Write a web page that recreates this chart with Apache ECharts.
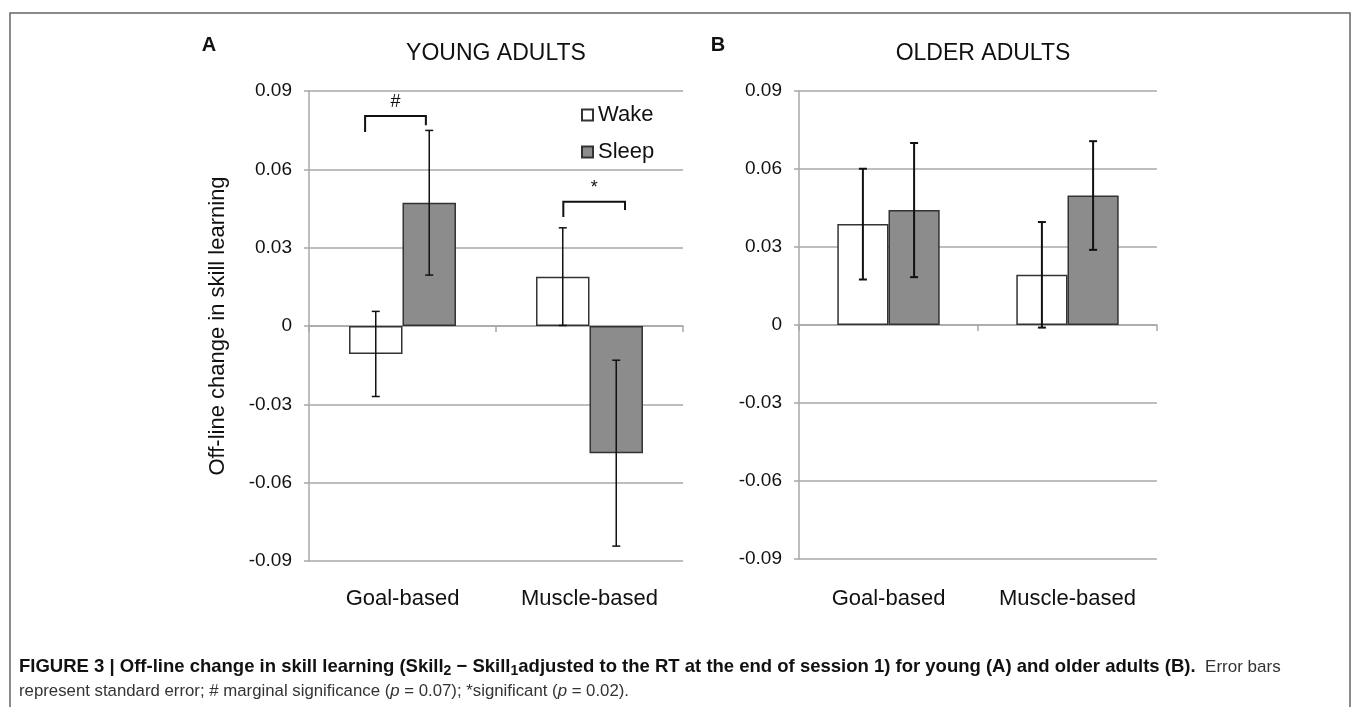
<!DOCTYPE html>
<html>
<head>
<meta charset="utf-8">
<script src="https://cdn.jsdelivr.net/npm/echarts@6/dist/echarts.min.js"></script>
<style>
html,body{margin:0;padding:0;background:#fff;}
#chart{width:1352px;height:707px;}
</style>
</head>
<body>
<div id="chart"></div>
<script>
const categories = ['Goal-based', 'Muscle-based'];
const seriesNames = ['Wake', 'Sleep'];

// young adults (A)
const youngWake = [-0.0107, 0.0189];
const youngWakeErr = [0.0163, 0.0187];
const youngSleep = [0.0472, -0.0487];
const youngSleepErr = [0.0277, 0.0356];

// older adults (B)
const olderWake = [0.0388, 0.0193];
const olderWakeErr = [0.0213, 0.0203];
const olderSleep = [0.0442, 0.0498];
const olderSleepErr = [0.0258, 0.0209];

const yMin = -0.09, yMax = 0.09, yStep = 0.03;

// significance brackets (panel A): category, span in category units, y values
const sigCat = [0, 1];
const sigFrom = [-0.2, -0.14];
const sigTo = [0.125, 0.19];
const sigTop = [0.0804, 0.0476];
const sigLeftEnd = [0.0743, 0.0417];
const sigRightEnd = [0.0769, 0.0444];
const sigMark = ['#', '*'];

const FONT = "'Liberation Sans', Arial, Helvetica, sans-serif";
const BAR_FRAC = 0.286;
const GRID_COL = '#a8a8a8';
const INK = '#111';

const grids = [
  {left: 309, top: 91, width: 374, height: 470},
  {left: 799, top: 91, width: 358, height: 468}
];

function yAxisFor(g, name){
  return {
    type: 'value', gridIndex: g, min: yMin, max: yMax, interval: yStep,
    name: name || '', nameLocation: 'middle', nameRotate: 90, nameGap: 80,
    nameTextStyle: {fontSize: 22, color: INK, fontFamily: FONT},
    axisLine: {show: true, lineStyle: {color: GRID_COL, width: 1.5}},
    axisTick: {show: true, length: 5, lineStyle: {color: GRID_COL, width: 1.5}},
    axisLabel: {fontSize: 19, color: INK, fontFamily: FONT, margin: 17,
      formatter: v => { const r = Math.round(v * 100) / 100; return r === 0 ? '0' : r.toFixed(2); }},
    splitLine: {show: true, lineStyle: {color: GRID_COL, width: 1.5}}
  };
}
function xZeroAxis(g){
  return {
    type: 'category', gridIndex: g, data: categories, position: 'bottom',
    axisLine: {onZero: true, lineStyle: {color: GRID_COL, width: 1.5}},
    axisTick: {show: true, length: 6, lineStyle: {color: GRID_COL, width: 1.5}},
    axisLabel: {show: false}, splitLine: {show: false}
  };
}
function xLabelAxis(g, margin){
  return {
    type: 'category', gridIndex: g, data: categories, position: 'bottom',
    axisLine: {show: false, onZero: false}, axisTick: {show: false},
    axisLabel: {fontSize: 22, color: INK, fontFamily: FONT, margin: margin},
    splitLine: {show: false}
  };
}

function bar(name, data, g, fill){
  return {
    name, type: 'bar', data, xAxisIndex: g * 2, yAxisIndex: g,
    barWidth: (BAR_FRAC * 100) + '%', barGap: '0%',
    itemStyle: {color: fill, borderColor: '#333', borderWidth: 1.5},
    emphasis: {disabled: true}, z: 2
  };
}

function errBars(means, errs, side, g, lw){
  return {
    type: 'custom', xAxisIndex: g * 2, yAxisIndex: g, z: 5,
    data: means.map((m, i) => [i, m, errs[i]]),
    encode: {x: 0, y: 1},
    silent: true,
    renderItem: (params, api) => {
      const c = api.coord([api.value(0), api.value(1)]);
      const band = api.size([1, 0])[0];
      const x = c[0] + side * band * BAR_FRAC / 2;
      const hi = api.coord([api.value(0), api.value(1) + api.value(2)])[1];
      const lo = api.coord([api.value(0), api.value(1) - api.value(2)])[1];
      const st = {stroke: INK, lineWidth: lw};
      return {type: 'group', children: [
        {type: 'line', shape: {x1: x, y1: hi, x2: x, y2: lo}, style: st},
        {type: 'line', shape: {x1: x - 4, y1: hi, x2: x + 4, y2: hi}, style: st},
        {type: 'line', shape: {x1: x - 4, y1: lo, x2: x + 4, y2: lo}, style: st}
      ]};
    }
  };
}

const brackets = {
  type: 'custom', xAxisIndex: 0, yAxisIndex: 0, z: 6, silent: true,
  data: sigCat.map((c, i) => [c, sigFrom[i], sigTo[i], sigTop[i], sigLeftEnd[i], sigRightEnd[i]]),
  encode: {x: 0, y: 3},
  renderItem: (params, api) => {
    const c = api.coord([api.value(0), api.value(3)]);
    const band = api.size([1, 0])[0];
    const x1 = c[0] + api.value(1) * band;
    const x2 = c[0] + api.value(2) * band;
    const yT = c[1];
    const yL = api.coord([api.value(0), api.value(4)])[1];
    const yR = api.coord([api.value(0), api.value(5)])[1];
    return {type: 'group', children: [
      {type: 'polyline', shape: {points: [[x1, yL], [x1, yT], [x2, yT], [x2, yR]]},
        style: {stroke: INK, lineWidth: 2, fill: null}},
      {type: 'text', x: (x1 + x2) / 2, y: yT - 5,
        style: {text: sigMark[params.dataIndex], fill: INK, font: '18px ' + FONT,
          align: 'center', verticalAlign: 'bottom'}}
    ]};
  }
};

const chart = echarts.init(document.getElementById('chart'), null, {renderer: 'canvas'});
chart.setOption({
  animation: false,
  backgroundColor: '#fff',
  textStyle: {fontFamily: FONT},
  grid: grids,
  xAxis: [xZeroAxis(0), xLabelAxis(0, 27), xZeroAxis(1), xLabelAxis(1, 29)],
  yAxis: [yAxisFor(0, 'Off-line change in skill learning'), yAxisFor(1)],
  legend: {
    data: seriesNames, orient: 'vertical', left: 576, top: 99,
    itemWidth: 11, itemHeight: 11, itemGap: 15, itemTextGap: 6, icon: 'rect',
    textStyle: {fontSize: 22, color: INK, fontFamily: FONT},
    selectedMode: false
  },
  graphic: [
    {type: 'rect', shape: {x: 10, y: 13, width: 1340, height: 720},
      style: {fill: null, stroke: '#666', lineWidth: 1.5}, silent: true},
    {type: 'text', x: 209, y: 45, style: {text: 'A', font: 'bold 20px ' + FONT, fill: INK, align: 'center', verticalAlign: 'middle'}},
    {type: 'text', x: 496, y: 54, style: {text: 'YOUNG ADULTS', font: '23px ' + FONT, fill: INK, align: 'center', verticalAlign: 'middle'}},
    {type: 'text', x: 718, y: 45, style: {text: 'B', font: 'bold 20px ' + FONT, fill: INK, align: 'center', verticalAlign: 'middle'}},
    {type: 'text', x: 983, y: 54, style: {text: 'OLDER ADULTS', font: '23px ' + FONT, fill: INK, align: 'center', verticalAlign: 'middle'}},
    {type: 'text', x: 19, y: 667, style: {
      text: '{b|FIGURE 3 | Off-line change in skill learning (Skill}{s|2}{b| − Skill}{s|1}{b|adjusted to the RT at the end of session 1) for young (A) and older adults (B).}{n|  Error bars}',
      verticalAlign: 'middle', align: 'left',
      rich: {
        b: {fontSize: 18.5, fontWeight: 'bold', fill: INK, fontFamily: FONT, lineHeight: 22, verticalAlign: 'middle'},
        s: {fontSize: 14, fontWeight: 'bold', fill: INK, fontFamily: FONT, lineHeight: 22, padding: [9, 0, 0, 0], verticalAlign: 'middle'},
        n: {fontSize: 17, fill: '#333', fontFamily: FONT, lineHeight: 22, verticalAlign: 'middle'}
      }}},
    {type: 'text', x: 19, y: 691, style: {
      text: '{n|represent standard error; # marginal significance (}{i|p}{n| = 0.07); *significant (}{i|p}{n| = 0.02).}',
      verticalAlign: 'middle', align: 'left',
      rich: {
        n: {fontSize: 16.8, fill: '#333', fontFamily: FONT, lineHeight: 22, verticalAlign: 'middle'},
        i: {fontSize: 16.8, fontStyle: 'italic', fill: '#333', fontFamily: FONT, lineHeight: 22, verticalAlign: 'middle'}
      }}}
  ],
  series: [
    bar('Wake', youngWake, 0, '#ffffff'),
    bar('Sleep', youngSleep, 0, '#8c8c8c'),
    bar('Wake', olderWake, 1, '#ffffff'),
    bar('Sleep', olderSleep, 1, '#8c8c8c'),
    errBars(youngWake, youngWakeErr, -1, 0, 1.5),
    errBars(youngSleep, youngSleepErr, 1, 0, 1.5),
    errBars(olderWake, olderWakeErr, -1, 1, 2),
    errBars(olderSleep, olderSleepErr, 1, 1, 2),
    brackets
  ]
});
</script>
</body>
</html>
